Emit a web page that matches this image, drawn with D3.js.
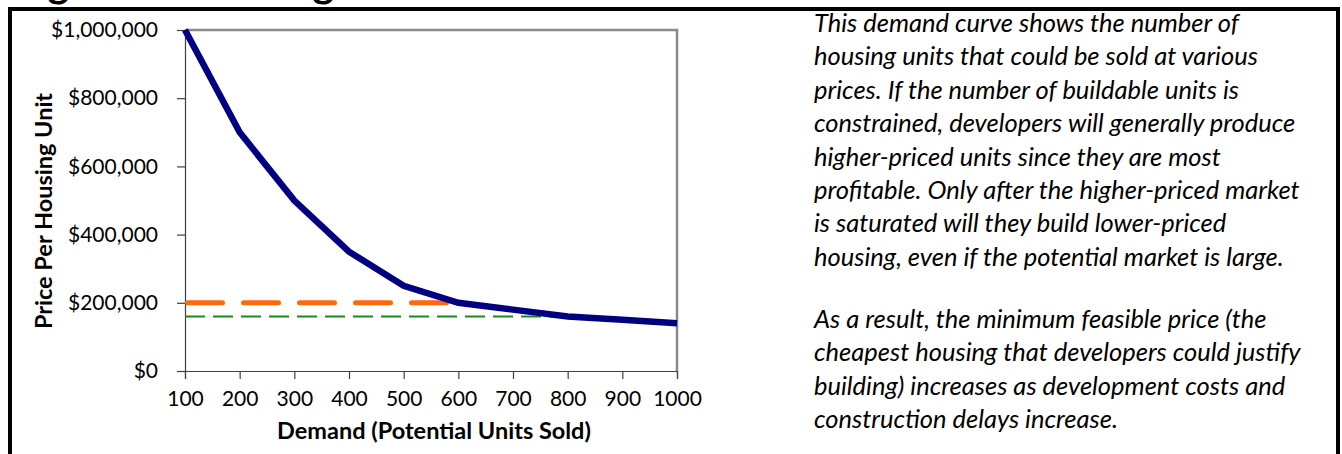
<!DOCTYPE html>
<html lang="en">
<head>
    <meta charset="UTF-8">
    <title>Housing Demand Curve</title>
    <script src="https://d3js.org/d3.v7.min.js"></script>
    <style>
        body { margin: 0; background: #fff; }
        svg { display: block; font-family: Lato, "Open Sans", sans-serif; }
        .axis text { font-family: Lato, "Open Sans", sans-serif; font-size: 21px; fill: #000; }
        .axis path, .axis line { stroke: #404040; stroke-width: 1.2px; }
        .title { font-size: 23.5px; font-weight: bold; }
        .note { font-size: 25.5px; font-style: italic; }
    </style>
</head>
<body>
    <div id="chart"></div>

    <script>
        // 数据
        const demand = [100, 200, 300, 400, 500, 600, 700, 800, 900, 1000];
        const price = [1000000, 700000, 500000, 350000, 250000, 200000, 180000, 160000, 150000, 140000];
        const orangeX = [100, 600], orangeY = [200000, 200000];
        const greenX = [100, 800], greenY = [160000, 160000];
        const xTicks = [100, 200, 300, 400, 500, 600, 700, 800, 900, 1000];
        const yTicks = [0, 200000, 400000, 600000, 800000, 1000000];
        const noteLines = [
            "This demand curve shows the number of",
            "housing units that could be sold at various",
            "prices. If the number of buildable units is",
            "constrained, developers will generally produce",
            "higher-priced units since they are most",
            "profitable. Only after the higher-priced market",
            "is saturated will they build lower-priced",
            "housing, even if the potential market is large.",
            "",
            "As a result, the minimum feasible price (the",
            "cheapest housing that developers could justify",
            "building) increases as development costs and",
            "construction delays increase."
        ];

        const width = 1342, height = 454;
        const svg = d3.select('#chart').append('svg')
            .attr('width', width)
            .attr('height', height);

        // 被裁掉的标题（只露出下半部分）
        svg.append('text')
            .attr('x', 14).attr('y', -3)
            .style('font-size', '41px').style('font-weight', 'bold')
            .text('Figure 2: Housing Demand Curve');

        // 外框
        svg.append('rect')
            .attr('x', 10).attr('y', 9)
            .attr('width', 1328).attr('height', 470)
            .attr('fill', 'none')
            .attr('stroke', '#000')
            .attr('stroke-width', 4);

        const x = d3.scaleLinear().domain([100, 1000]).range([185, 677]);
        const y = d3.scaleLinear().domain([0, 1000000]).range([371, 30]);

        // 绘图区上、右边框
        svg.append('path')
            .attr('d', `M${x(100)},${y(1000000)}H${x(1000)}V${y(0)}`)
            .attr('fill', 'none')
            .attr('stroke', '#8a8a8a')
            .attr('stroke-width', 2.5);

        svg.append('g')
            .attr('class', 'axis')
            .attr('transform', `translate(${x(100)},0)`)
            .call(d3.axisLeft(y).tickValues(yTicks).tickSize(8).tickPadding(19)
                .tickFormat(d3.format('$,')));

        svg.append('g')
            .attr('class', 'axis')
            .attr('transform', `translate(0,${y(0)})`)
            .call(d3.axisBottom(x).tickValues(xTicks).tickSize(8).tickPadding(12)
                .tickFormat(d3.format('d')));

        // 轴标题
        svg.append('text')
            .attr('class', 'title')
            .attr('transform', 'translate(52,211) rotate(-90)')
            .attr('text-anchor', 'middle')
            .text('Price Per Housing Unit');

        svg.append('text')
            .attr('class', 'title')
            .attr('x', 434).attr('y', 439)
            .attr('text-anchor', 'middle')
            .text('Demand (Potential Units Sold)');

        const line = d3.line().x(d => x(d[0])).y(d => y(d[1]));

        // 橙色虚线
        svg.append('path')
            .datum(d3.zip(orangeX, orangeY))
            .attr('d', line)
            .attr('fill', 'none')
            .attr('stroke', '#ff6a10')
            .attr('stroke-width', 5)
            .attr('stroke-linecap', 'round')
            .attr('stroke-dasharray', '35,21')
            .attr('transform', 'translate(2.5,0)');

        // 绿色虚线
        svg.append('path')
            .datum(d3.zip(greenX, greenY))
            .attr('d', line)
            .attr('fill', 'none')
            .attr('stroke', '#1a8a1a')
            .attr('stroke-width', 2)
            .attr('stroke-dasharray', '20,8');

        // 需求曲线
        svg.append('path')
            .datum(d3.zip(demand, price))
            .attr('d', line)
            .attr('fill', 'none')
            .attr('stroke', '#000080')
            .attr('stroke-width', 6.5);

        // 右侧说明文字
        const note = svg.append('text').attr('class', 'note');
        noteLines.forEach((t, i) => {
            if (!t) return;
            const baseY = i < 8 ? 32 + i * 33.4 : 328 + (i - 9) * 33.4;
            note.append('tspan').attr('x', 814).attr('y', baseY).text(t);
        });
    </script>
</body>
</html>
